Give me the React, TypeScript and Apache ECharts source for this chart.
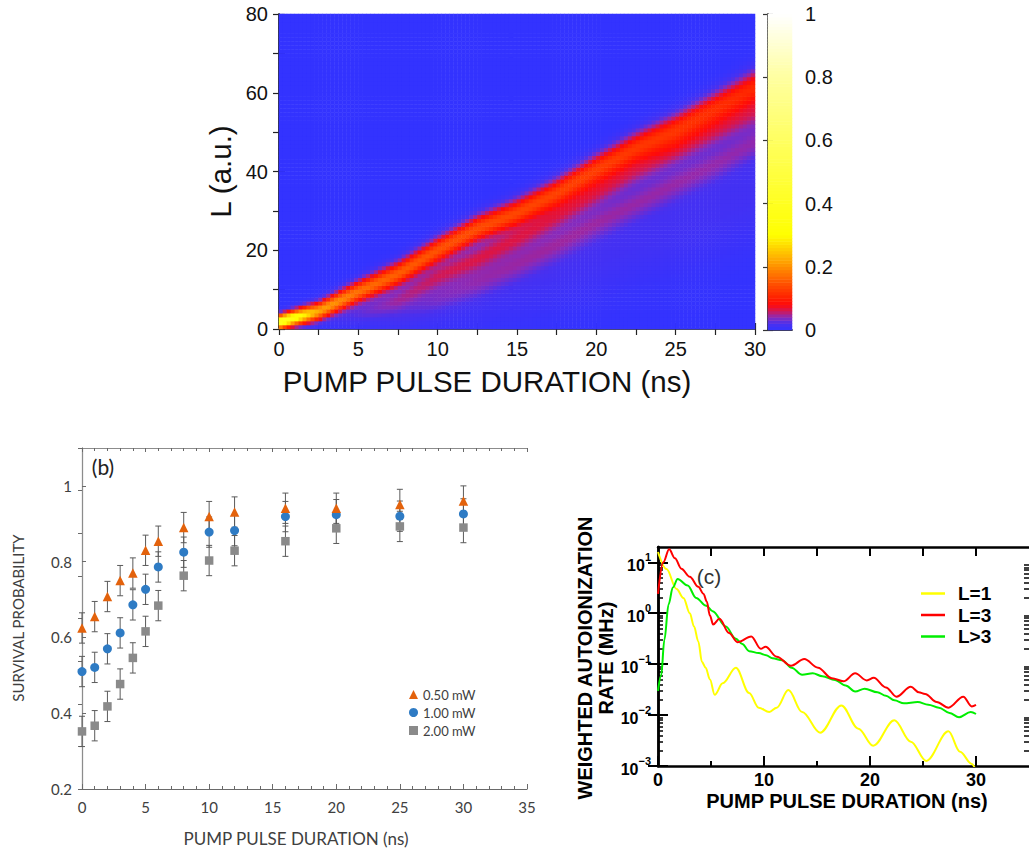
import React, { useEffect, useRef } from "react";
import * as echarts from "echarts";

// ---------------- Panel (a): ridge read-outs of the L distribution ----------------
const ridgeTimes = [0, 2.5, 5, 7.5, 10, 12.5, 15, 17.5, 20, 22.5, 25, 27.5, 30];
const mainCenter = [1.8, 4.5, 9.5, 14, 20, 25.5, 29.5, 34.5, 40.5, 46, 50.5, 56, 61.5];
const mainPeak = [0.42, 0.22, 0.17, 0.155, 0.145, 0.14, 0.135, 0.13, 0.125, 0.12, 0.115, 0.11, 0.105];
const mainWidth = [1.1, 1.5, 1.8, 2.0, 2.1, 2.2, 2.3, 2.4, 2.5, 2.6, 2.7, 2.8, 2.9];
const branch2Center = [0, 1.5, 4, 7.5, 13.5, 18, 23, 28.5, 34.5, 40, 45, 50, 55];
const branch2Peak = [0, 0, 0.02, 0.035, 0.05, 0.055, 0.055, 0.055, 0.055, 0.05, 0.05, 0.05, 0.05];
const branch2Width = [1.8, 1.8, 1.8, 1.9, 2.0, 2.1, 2.2, 2.3, 2.4, 2.4, 2.5, 2.5, 2.6];
const branch3Center = [0, 1, 2, 4, 8, 12, 16.5, 21.5, 27, 32, 37, 42, 47.5];
const branch3Peak = [0, 0, 0, 0.01, 0.025, 0.03, 0.032, 0.034, 0.034, 0.034, 0.034, 0.034, 0.034];
const branch3Width = [2, 2, 2, 2.4, 2.6, 2.8, 2.8, 2.8, 2.8, 2.8, 2.8, 2.8, 2.8];
const hazeCenter = [0, 1, 3, 5, 7, 10, 13, 16, 20, 24, 28, 32, 36];
const hazePeak = [0, 0, 0.004, 0.008, 0.01, 0.012, 0.013, 0.014, 0.014, 0.014, 0.014, 0.014, 0.014];
const hazeWidth = [4, 4, 5, 6, 7, 7, 8, 8, 9, 9, 10, 10, 10];

// colour map of the colour bar
const paletteStops: [number, string][] = [
  [0, "#3333ff"], [0.02, "#4a30ee"], [0.04, "#8a2ab8"], [0.06, "#d01858"], [0.08, "#ff0a0a"],
  [0.1, "#ff1e00"], [0.15, "#ff5500"], [0.2, "#ff9000"], [0.25, "#ffc800"], [0.3, "#ffff00"],
  [0.5, "#ffff40"], [0.8, "#ffffa0"], [1, "#ffffff"],
];

// ---------------- Panel (b): survival probability ----------------
const pulseDurations = [0, 1, 2, 3, 4, 5, 6, 8, 10, 12, 16, 20, 25, 30];
const survival050 = [0.625, 0.655, 0.708, 0.75, 0.77, 0.83, 0.854, 0.89, 0.919, 0.931, 0.941, 0.941, 0.951, 0.96];
const survival100 = [0.51, 0.521, 0.57, 0.612, 0.686, 0.727, 0.786, 0.825, 0.878, 0.882, 0.919, 0.924, 0.92, 0.926];
const survival200 = [0.352, 0.367, 0.418, 0.477, 0.546, 0.616, 0.684, 0.763, 0.803, 0.829, 0.854, 0.888, 0.893, 0.89];
const survivalError = 0.04;

// ---------------- Panel (c): weighted autoionization rate ----------------
const rateL1: [number, number][] = [
  [0, 16], [0.8, 7.4], [1.75, 3.0], [2.4, 2.0], [3.0, 1.0], [3.4, 0.55], [3.8, 0.28], [4.15, 0.11],
  [4.5, 0.085], [4.9, 0.05], [5.35, 0.025], [6.1, 0.042], [7.35, 0.085], [8.6, 0.027], [9.5, 0.014],
  [10.5, 0.0115], [11.2, 0.014], [12.3, 0.031], [13.6, 0.0115], [15.3, 0.0045], [17.3, 0.0155],
  [18.9, 0.0054], [20.3, 0.0025], [22.3, 0.0079], [23.85, 0.003], [25.3, 0.00126], [27.4, 0.0048],
  [28.5, 0.0019], [29.6, 0.0011], [30, 0.0008],
];
const rateL3: [number, number][] = [
  [0, 2.4], [0.5, 10], [1.05, 18], [1.6, 12], [2.2, 7.5], [3.0, 5.2], [3.8, 3.3], [4.3, 2.4], [4.6, 1.7],
  [4.9, 0.9], [5.2, 0.6], [5.8, 0.78], [6.7, 0.41], [7.5, 0.27], [8.8, 0.35], [9.7, 0.2], [10.15, 0.22],
  [11.2, 0.14], [12.55, 0.093], [13.8, 0.126], [15.1, 0.085], [16.4, 0.053], [17.5, 0.046], [18.6, 0.066],
  [19.7, 0.048], [20.35, 0.054], [21.5, 0.035], [22.5, 0.023], [23.85, 0.036], [24.6, 0.028], [25.2, 0.026],
  [26.3, 0.018], [27.4, 0.014], [28.8, 0.023], [29.6, 0.0148], [30, 0.0158],
];
const rateLgt3: [number, number][] = [
  [0, 0.03], [0.3, 0.06], [0.6, 0.3], [1.0, 1.5], [1.4, 3.2], [1.85, 4.7], [2.8, 3.5], [3.6, 2.0],
  [4.55, 1.4], [5.15, 1.1], [6.4, 0.55], [7.3, 0.32], [7.95, 0.25], [8.6, 0.18], [9.5, 0.165], [10.2, 0.15],
  [10.8, 0.13], [11.7, 0.12], [12.6, 0.085], [13.6, 0.062], [14.6, 0.066], [15.5, 0.058], [16.7, 0.049],
  [17.7, 0.038], [18.6, 0.029], [19.5, 0.033], [20.7, 0.028], [21.5, 0.024], [22.3, 0.0195], [23.2, 0.017],
  [24.5, 0.018], [25.5, 0.016], [26.5, 0.014], [27.5, 0.011], [28.4, 0.0091], [29.5, 0.0115], [30, 0.0105],
];
const logMajorTicks = [0.001, 0.01, 0.1, 1, 10];

const FA = "'Liberation Sans', Arial, Helvetica, sans-serif";
const FB = "Lato, 'Open Sans', sans-serif";

function interp(xs: number[], ys: number[], x: number) {
  if (x <= xs[0]) return ys[0];
  for (let i = 1; i < xs.length; i++) {
    if (x <= xs[i]) {
      const f = (x - xs[i - 1]) / (xs[i] - xs[i - 1]);
      return ys[i - 1] + f * (ys[i] - ys[i - 1]);
    }
  }
  return ys[ys.length - 1];
}

function hexToRgb(h: string) {
  return [parseInt(h.slice(1, 3), 16), parseInt(h.slice(3, 5), 16), parseInt(h.slice(5, 7), 16)];
}
function buildPalette(n: number) {
  const out: string[] = [];
  for (let k = 0; k < n; k++) {
    const v = k / (n - 1);
    let i = 1;
    while (i < paletteStops.length - 1 && v > paletteStops[i][0]) i++;
    const [v0, c0] = paletteStops[i - 1];
    const [v1, c1] = paletteStops[i];
    const f = Math.max(0, Math.min(1, (v - v0) / (v1 - v0)));
    const a = hexToRgb(c0), b = hexToRgb(c1);
    const c = a.map((x, j) => Math.round(x + f * (b[j] - x)));
    out.push(`rgb(${c[0]},${c[1]},${c[2]})`);
  }
  return out;
}

function buildOption() {
  // ----- heat map cells -----
  const nT = 120, nL = 80;
  const timeCells: string[] = [];
  const lCells: string[] = [];
  for (let i = 0; i < nT; i++) timeCells.push(((i + 0.5) * 0.25).toFixed(3));
  for (let j = 0; j < nL; j++) lCells.push((j + 0.5).toFixed(1));
  const ridges = [
    { c: mainCenter, p: mainPeak, w: mainWidth },
    { c: branch2Center, p: branch2Peak, w: branch2Width },
    { c: branch3Center, p: branch3Peak, w: branch3Width },
    { c: hazeCenter, p: hazePeak, w: hazeWidth },
  ];
  const heatData: number[][] = [];
  for (let i = 0; i < nT; i++) {
    const t = (i + 0.5) * 0.25;
    for (let j = 0; j < nL; j++) {
      const L = j + 0.5;
      let v = 0;
      for (const r of ridges) {
        const c = interp(ridgeTimes, r.c, t);
        const a = interp(ridgeTimes, r.p, t);
        const w = interp(ridgeTimes, r.w, t);
        v += a * Math.exp(-((L - c) * (L - c)) / (2 * w * w));
      }
      heatData.push([i, j, Math.min(1, v)]);
    }
  }
  const cbCells: string[] = [];
  const cbData: number[][] = [];
  for (let k = 0; k < 100; k++) {
    cbCells.push(String(k));
    cbData.push([0, k, (k + 0.5) / 100]);
  }

  const xAxis: any[] = [];
  const yAxis: any[] = [];
  const addX = (o: any) => (xAxis.push(o), xAxis.length - 1);
  const addY = (o: any) => (yAxis.push(o), yAxis.length - 1);
  const hidden = { show: false };
  const noSplit = { splitLine: { show: false } };

  // ---- (a) ----
  const xHeat = addX({ type: "category", gridIndex: 0, data: timeCells, ...hidden });
  const yHeat = addY({ type: "category", gridIndex: 0, data: lCells, ...hidden });
  addX({
    type: "value", gridIndex: 1, position: "bottom", min: 0, max: 30, interval: 5, ...noSplit,
    axisLine: { lineStyle: { color: "#d8d8d8", width: 2 } },
    axisTick: { inside: true, length: 6, lineStyle: { color: "#222", width: 1.2 } },
    minorTick: { show: true, splitNumber: 2, length: 6, lineStyle: { color: "#222", width: 1.2 } },
    axisLabel: { fontSize: 20, fontFamily: FA, color: "#111", margin: 10 },
  });
  addX({
    type: "value", gridIndex: 1, position: "top", min: 0, max: 30, interval: 2.5, ...noSplit,
    axisLine: { lineStyle: { color: "#222", width: 1.5 } },
    axisTick: { inside: true, length: 6, lineStyle: { color: "#222", width: 1.2 } },
    axisLabel: { show: false },
  });
  addY({
    type: "value", gridIndex: 1, position: "left", min: 0, max: 80, interval: 20, ...noSplit,
    axisLine: { lineStyle: { color: "#333", width: 1.5 } },
    axisTick: { inside: true, length: 6, lineStyle: { color: "#222", width: 1.2 } },
    minorTick: { show: true, splitNumber: 2, length: 6, lineStyle: { color: "#222", width: 1.2 } },
    axisLabel: { fontSize: 20, fontFamily: FA, color: "#111", margin: 11 },
  });
  addY({
    type: "value", gridIndex: 1, position: "right", min: 0, max: 80, interval: 10, ...noSplit,
    axisLine: { lineStyle: { color: "#222", width: 1.5 } },
    axisTick: { inside: true, length: 6, lineStyle: { color: "#222", width: 1.2 } },
    axisLabel: { show: false },
  });
  // colour bar
  const xCb = addX({ type: "category", gridIndex: 2, data: ["c"], ...hidden });
  const yCb = addY({ type: "category", gridIndex: 2, data: cbCells, ...hidden });
  addX({
    type: "value", gridIndex: 3, position: "bottom", min: 0, max: 1, ...noSplit,
    axisLine: { lineStyle: { color: "#333", width: 1.5 } }, axisTick: { show: false }, axisLabel: { show: false },
  });
  addX({
    type: "value", gridIndex: 3, position: "top", min: 0, max: 1, ...noSplit,
    axisLine: { lineStyle: { color: "#333", width: 1.5 } }, axisTick: { show: false }, axisLabel: { show: false },
  });
  addY({
    type: "value", gridIndex: 3, position: "left", min: 0, max: 1, interval: 0.2, ...noSplit,
    axisLine: { lineStyle: { color: "#333", width: 1.5 } },
    axisTick: { inside: true, length: 5, lineStyle: { color: "#333", width: 1.2 } }, axisLabel: { show: false },
  });
  addY({
    type: "value", gridIndex: 3, position: "right", min: 0, max: 1, interval: 0.2, ...noSplit,
    axisLine: { lineStyle: { color: "#333", width: 1.5 } },
    axisTick: { inside: true, length: 5, lineStyle: { color: "#333", width: 1.2 } },
    axisLabel: { fontSize: 20, fontFamily: FA, color: "#111", margin: 13 },
  });

  // ---- (b) ----
  const xB = addX({
    type: "value", gridIndex: 4, position: "bottom", min: 0, max: 35, interval: 5, ...noSplit,
    axisLine: { lineStyle: { color: "#6a6a6a", width: 1.2 } },
    axisTick: { inside: true, length: 5, lineStyle: { color: "#6a6a6a" } },
    minorTick: { show: true, splitNumber: 5, length: 3, lineStyle: { color: "#6a6a6a" } },
    axisLabel: { fontSize: 15, fontFamily: FB, color: "#404040", margin: 10 },
  });
  addX({
    type: "value", gridIndex: 4, position: "top", min: 0, max: 35, interval: 5, ...noSplit,
    axisLine: { lineStyle: { color: "#8c8c8c", width: 1 } },
    axisTick: { inside: true, length: 4, lineStyle: { color: "#6a6a6a" } },
    minorTick: { show: true, splitNumber: 5, length: 3, lineStyle: { color: "#6a6a6a" } },
    axisLabel: { show: false },
  });
  const yB = addY({
    type: "value", gridIndex: 4, position: "left", min: 0.2, max: 1.1, interval: 0.2, ...noSplit,
    axisLine: { lineStyle: { color: "#6a6a6a", width: 1.2 } },
    axisTick: { inside: true, length: 4, lineStyle: { color: "#6a6a6a" } },
    axisLabel: { fontSize: 15, fontFamily: FB, color: "#404040", margin: 10, showMaxLabel: false },
  });
  addY({
    type: "value", gridIndex: 4, position: "right", min: 0, max: 8, interval: 1, ...noSplit,
    axisLine: { lineStyle: { color: "#8c8c8c", width: 1 } },
    axisTick: { inside: true, length: 4, lineStyle: { color: "#6a6a6a" } },
    axisLabel: { show: false },
  });

  // ---- (c) ----
  const blk = { color: "#000" };
  const xC = addX({
    type: "value", gridIndex: 5, position: "bottom", min: 0, max: 35, ...noSplit,
    axisLine: { lineStyle: { ...blk, width: 2.5 } },
    axisTick: { inside: true, length: 10, customValues: [0, 10, 20, 30], lineStyle: { ...blk, width: 2 } },
    axisLabel: {
      customValues: [0, 10, 20, 30], fontSize: 18, fontWeight: "bold", fontFamily: FA, color: "#000",
      margin: 6, lineHeight: 16,
    },
  });
  addX({
    type: "value", gridIndex: 5, position: "bottom", min: 0, max: 35, ...noSplit,
    axisLine: { show: false },
    axisTick: { inside: true, length: 5, customValues: [5, 15, 25], lineStyle: { ...blk, width: 2 } },
    axisLabel: { show: false },
  });
  addX({
    type: "value", gridIndex: 5, position: "top", min: 0, max: 35, ...noSplit,
    axisLine: { lineStyle: { ...blk, width: 2.5 } },
    axisTick: { inside: true, length: 9, customValues: [5, 10, 15, 20, 25, 30], lineStyle: { ...blk, width: 2 } },
    axisLabel: { show: false },
  });
  const logMinor: number[] = [];
  for (let d = -3; d <= 1; d++) {
    for (let k = 2; k <= 9; k++) {
      const v = parseFloat((k * Math.pow(10, d)).toPrecision(6));
      if (v < 20) logMinor.push(v);
    }
  }
  const supLabel = (v: number) => {
    const e = Math.round(Math.log10(v));
    return `{b|10}{s|${e < 0 ? "\u2212" + -e : e}}`;
  };
  const rich = {
    b: { fontSize: 16, fontWeight: "bold", fontFamily: FA, color: "#000", lineHeight: 22, verticalAlign: "bottom" },
    s: { fontSize: 11, fontWeight: "bold", fontFamily: FA, color: "#000", lineHeight: 12, verticalAlign: "top" },
  };
  const yC = addY({
    type: "log", gridIndex: 5, position: "left", min: 0.001, max: 20, ...noSplit,
    axisLine: { lineStyle: { ...blk, width: 2.5 } },
    axisTick: { inside: true, length: 10, customValues: logMajorTicks, lineStyle: { ...blk, width: 2 } },
    axisLabel: { customValues: logMajorTicks, formatter: supLabel, rich, margin: 7 },
  });
  addY({
    type: "log", gridIndex: 5, position: "left", min: 0.001, max: 20, ...noSplit,
    axisLine: { show: false },
    axisTick: { inside: true, length: 5, customValues: logMinor, lineStyle: { ...blk, width: 1.5 } },
    axisLabel: { show: false },
  });
  addY({
    type: "log", gridIndex: 5, position: "right", min: 0.001, max: 20, ...noSplit,
    axisLine: { lineStyle: { ...blk, width: 2.5 } },
    axisTick: { inside: true, length: 10, customValues: logMajorTicks, lineStyle: { ...blk, width: 2 } },
    axisLabel: { show: false },
  });
  addY({
    type: "log", gridIndex: 5, position: "right", min: 0.001, max: 20, ...noSplit,
    axisLine: { show: false },
    axisTick: { inside: true, length: 5, customValues: logMinor, lineStyle: { ...blk, width: 1.5 } },
    axisLabel: { show: false },
  });

  const errSeries = (vals: number[], name: string) => ({
    type: "custom",
    name,
    xAxisIndex: xB,
    yAxisIndex: yB,
    z: 2,
    silent: true,
    data: pulseDurations.map((t, i) => [t, vals[i] - survivalError, vals[i] + survivalError]),
    encode: { x: 0, y: [1, 2] },
    renderItem: (_p: any, api: any) => {
      const x = api.value(0);
      const lo = api.coord([x, api.value(1)]);
      const hi = api.coord([x, api.value(2)]);
      const style = { stroke: "#5a5a5a", lineWidth: 1 };
      const hw = 3;
      return {
        type: "group",
        children: [
          { type: "line", shape: { x1: lo[0], y1: lo[1], x2: hi[0], y2: hi[1] }, style },
          { type: "line", shape: { x1: lo[0] - hw, y1: lo[1], x2: lo[0] + hw, y2: lo[1] }, style },
          { type: "line", shape: { x1: hi[0] - hw, y1: hi[1], x2: hi[0] + hw, y2: hi[1] }, style },
        ],
      };
    },
  });
  const scatter = (vals: number[], name: string, symbol: string, size: number, color: string) => ({
    type: "scatter", name, xAxisIndex: xB, yAxisIndex: yB, z: 3, symbol, symbolSize: size,
    itemStyle: { color, opacity: 1 },
    data: pulseDurations.map((t, i) => [t, vals[i]]),
  });
  const line = (data: [number, number][], name: string, color: string) => ({
    type: "line", name, xAxisIndex: xC, yAxisIndex: yC, data, symbol: "none", smooth: 0.35,
    smoothMonotone: "x", lineStyle: { color, width: 2 }, itemStyle: { color }, clip: true,
  });

  const series: any[] = [
    { type: "heatmap", xAxisIndex: xHeat, yAxisIndex: yHeat, data: heatData, progressive: 0, emphasis: { disabled: true } },
    { type: "heatmap", xAxisIndex: xCb, yAxisIndex: yCb, data: cbData, progressive: 0, emphasis: { disabled: true } },
    errSeries(survival200, "e200"),
    errSeries(survival100, "e100"),
    errSeries(survival050, "e050"),
    scatter(survival200, "2.00 mW", "rect", 8.5, "#8a8a8a"),
    scatter(survival100, "1.00 mW", "circle", 9, "#2e7bc4"),
    scatter(survival050, "0.50 mW", "triangle", 9.5, "#e3620c"),
    line(rateL1, "L=1", "#ffff00"),
    line(rateLgt3, "L>3", "#00ee00"),
    line(rateL3, "L=3", "#ff0000"),
  ];

  const txt = (text: string, x: number, y: number, font: any, extra: any = {}) => ({
    type: "text", x, y, rotation: extra.rotation || 0, silent: true,
    style: { text, align: "center", verticalAlign: "middle", ...font, ...(extra.style || {}) },
  });

  return {
    animation: false,
    backgroundColor: "#ffffff",
    grid: [
      { left: 279, top: 14, width: 476, height: 315 },
      { left: 279, top: 14, width: 476, height: 315 },
      { left: 768, top: 14, width: 24, height: 316 },
      { left: 768, top: 14, width: 24, height: 316 },
      { left: 82, top: 448, width: 445, height: 341 },
      { left: 658, top: 547, width: 374.5, height: 219 },
    ],
    xAxis,
    yAxis,
    visualMap: {
      type: "continuous", show: false, min: 0, max: 1, dimension: 2, seriesIndex: [0, 1],
      inRange: { color: buildPalette(101) },
    },
    legend: [
      {
        orient: "vertical", left: 404, top: 683, itemWidth: 9, itemHeight: 9, itemGap: 5,
        textStyle: { fontSize: 13, fontFamily: FB, color: "#404040" },
        data: [
          { name: "0.50 mW", icon: "triangle" },
          { name: "1.00 mW", icon: "circle" },
          { name: "2.00 mW", icon: "rect" },
        ],
        selectedMode: false,
      },
      {
        orient: "vertical", left: 916, top: 579, itemWidth: 24, itemHeight: 2.5, itemGap: 2.5, icon: "rect",
        textStyle: { fontSize: 19, fontWeight: "bold", fontFamily: FA, color: "#000", padding: [0, 0, 0, 8] },
        data: ["L=1", "L=3", "L>3"],
        selectedMode: false,
      },
    ],
    graphic: [
      txt("(a)", 296, 40, { fontSize: 21, fontFamily: FA, fill: "#ffffff" }),
      txt("PUMP PULSE DURATION (ns)", 487, 381, { fontSize: 29.5, fontFamily: FA, fill: "#111" }),
      txt("L (a.u.)", 220, 171.5, { fontSize: 29.5, fontFamily: FA, fill: "#111" }, { rotation: Math.PI / 2 }),
      txt("(b)", 103, 466, { fontSize: 21, fontFamily: FB, fill: "#222" }),
      txt("PUMP PULSE DURATION (ns)", 296, 838, { fontSize: 17, fontFamily: FB, fill: "#404040" }),
      txt("SURVIVAL PROBABILITY", 18, 618, { fontSize: 15, fontFamily: FB, fill: "#404040" }, { rotation: Math.PI / 2 }),
      txt("(c)", 709, 576, { fontSize: 21, fontFamily: FA, fill: "#333" }),
      txt("PUMP PULSE DURATION (ns)", 847, 801,
        { fontSize: 20, fontWeight: "bold", fontFamily: FA, fill: "#000", lineHeight: 18 }),
      txt("WEIGHTED AUTOIONIZATION\nRATE (MHz)", 595, 658,
        { fontSize: 20, fontWeight: "bold", fontFamily: FA, fill: "#000", lineHeight: 21 }, { rotation: Math.PI / 2 }),
    ],
    series,
  };
}

export default function App() {
  const ref = useRef<HTMLDivElement>(null);
  useEffect(() => {
    if (!ref.current) return;
    const chart = echarts.init(ref.current, null, { renderer: "svg" });
    chart.setOption(buildOption() as any);
    return () => chart.dispose();
  }, []);
  return (
    <div
      ref={ref}
      style={{ position: "absolute", left: 0, top: 0, width: 1029, height: 852, background: "#fff", overflow: "hidden" }}
    />
  );
}
